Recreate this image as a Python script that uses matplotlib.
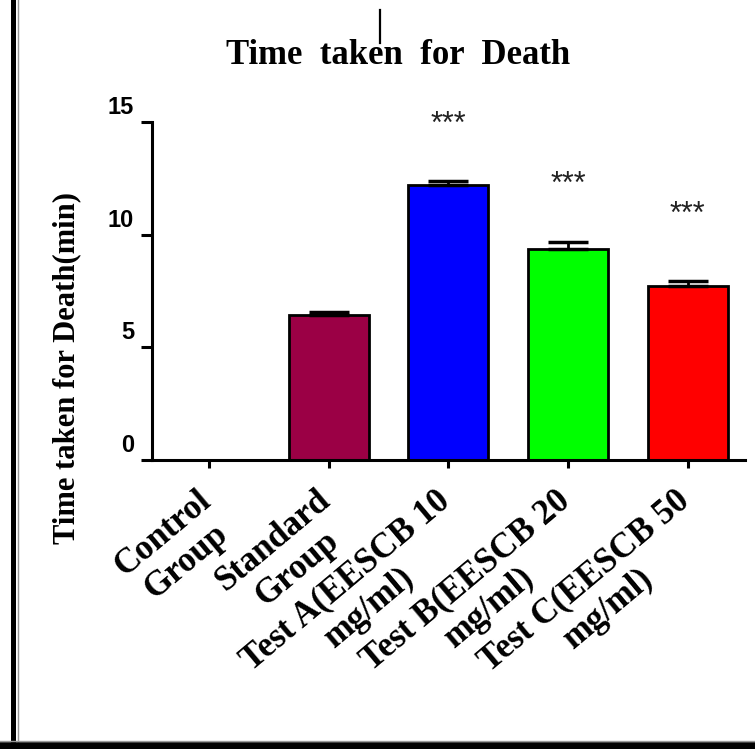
import numpy as np
import matplotlib
matplotlib.use('Agg')
import matplotlib.pyplot as plt
import matplotlib.transforms as mtransforms
from matplotlib.lines import Line2D

# values
groups = ['Control\nGroup', 'Standard\nGroup', 'Test A(EESCB 10\nmg/ml)',
          'Test B(EESCB 20\nmg/ml)', 'Test C(EESCB 50\nmg/ml)']
means = [0.0, 6.44, 12.22, 9.36, 7.70]
sems = [0.0, 0.15, 0.15, 0.30, 0.25]
colors = ['white', '#9b0045', '#0000ff', '#00ff00', '#ff0000']
stars = ['', '', '***', '***', '***']
star_y = [0, 0, 15.08, 12.44, 11.11]
yticks = [0, 5, 10, 15]

W, H = 755, 749
fig = plt.figure(figsize=(W / 100, H / 100), dpi=100)
ax = fig.add_axes([152 / W, (H - 460) / H, (745 - 152) / W, (460 - 122) / H])

x = np.arange(len(groups))
ax.bar(x, means, width=0.67, color=colors, edgecolor='black', linewidth=2.0, zorder=2)
for xi, m, e in zip(x, means, sems):
    if e > 0:
        # one-sided (upper) error bar
        ax.errorbar(xi, m, yerr=[[0], [e]], fmt='none', ecolor='black',
                    elinewidth=2.0, capsize=14.5, capthick=2.5, zorder=3)

# asterisks sit at the top of their em box, nudge them down a bit
down = mtransforms.ScaledTranslation(0, -0.05, fig.dpi_scale_trans)
for xi, s, sy in zip(x, stars, star_y):
    if s:
        ax.text(xi, sy, s, ha='center', va='center', fontsize=22,
                family='Liberation Sans', color='#222222', clip_on=False,
                transform=ax.transData + down)

ax.set_xlim(-0.477, 4.48)
ax.set_ylim(0, 15)
ax.set_yticks(yticks)
ax.set_xticks(x)

ax.tick_params(axis='y', length=8, width=2.2, pad=5)
ax.tick_params(axis='x', length=6, width=2.2, pad=9)
for side in ['top', 'right']:
    ax.spines[side].set_visible(False)
for side in ['left', 'bottom']:
    ax.spines[side].set_linewidth(2.2)

ax.set_xticklabels(groups, rotation=40, ha='right', va='top', rotation_mode='anchor',
                   multialignment='center', family='Liberation Serif',
                   fontweight='bold', fontsize=25, linespacing=1.15)
ax.set_yticklabels([str(t) for t in yticks], family='Liberation Sans',
                   fontweight='bold', fontsize=17)

# tick labels are offset from their ticks in the original
up = mtransforms.ScaledTranslation(0, 0.17, fig.dpi_scale_trans)
for tick in ax.yaxis.get_major_ticks():
    tick.label1.set_transform(tick.label1.get_transform() + up)
left = mtransforms.ScaledTranslation(-0.13, -0.03, fig.dpi_scale_trans)
for tick in ax.xaxis.get_major_ticks():
    tick.label1.set_transform(tick.label1.get_transform() + left)

ax.set_ylabel('Time taken for Death(min)', family='Liberation Serif',
              fontweight='bold', fontsize=22, va='center')
ax.yaxis.set_label_coords(67 / W, (H - 368) / H, transform=fig.transFigure)

fig.text(398 / W, (H - 55) / H, 'Time  taken  for  Death', ha='center', va='center',
         family='Liberation Serif', fontweight='bold', fontsize=25)

# page frame lines
fig.add_artist(Line2D([13 / W, 13 / W], [0, 1], color='black', lw=3.6))
fig.add_artist(Line2D([17.5 / W, 17.5 / W], [0, 1], color='#999999', lw=1.0))
fig.add_artist(Line2D([0, 1], [3.5 / H, 3.5 / H], color='black', lw=5.5))
fig.add_artist(Line2D([0, 1], [8 / H, 8 / H], color='#999999', lw=1.0))
fig.add_artist(Line2D([380 / W, 380 / W], [(H - 10) / H, (H - 43) / H], color='black', lw=1.6))

fig.savefig('out.png', dpi=100)
